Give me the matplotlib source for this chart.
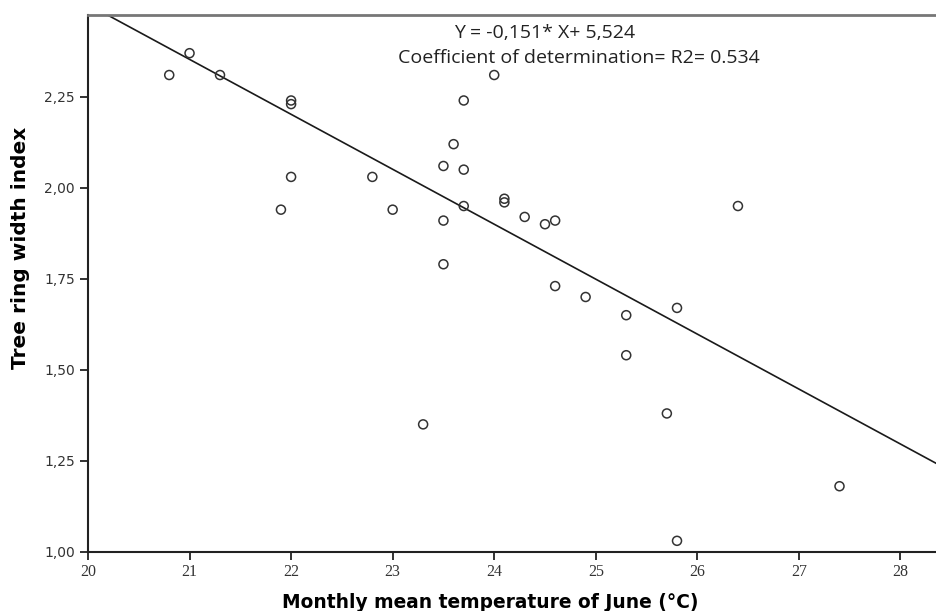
import matplotlib
matplotlib.use("Agg")
import matplotlib.pyplot as plt
import numpy as np

# June mean temperature (°C) vs tree ring width index
temp = [20.8, 21.0, 21.3, 22.0, 22.0, 22.0, 21.9, 22.8, 23.0, 23.3,
        23.7, 23.6, 23.5, 23.7, 23.7, 23.5, 23.5, 24.0, 24.1, 24.1,
        24.3, 24.5, 24.6, 24.6, 24.9, 25.3, 25.3, 25.8, 25.8, 25.7,
        26.4, 27.4]
ring_index = [2.31, 2.37, 2.31, 2.24, 2.23, 2.03, 1.94, 2.03, 1.94, 1.35,
              2.24, 2.12, 2.06, 2.05, 1.95, 1.91, 1.79, 2.31, 1.97, 1.96,
              1.92, 1.90, 1.91, 1.73, 1.70, 1.65, 1.54, 1.67, 1.03, 1.38,
              1.95, 1.18]

slope = -0.151
intercept = 5.524

x_ticks = [20, 21, 22, 23, 24, 25, 26, 27, 28]
y_ticks = [1.00, 1.25, 1.50, 1.75, 2.00, 2.25]

fig = plt.figure(figsize=(9.37, 6.11), dpi=100)
ax = fig.add_axes([0.0939, 0.097, 0.9061, 0.8785])

ax.scatter(temp, ring_index, s=42, facecolors="none", edgecolors="#333333",
           linewidths=1.1, zorder=3)

xs = np.array([20, 28.4])
ax.plot(xs, slope * xs + intercept, color="#1a1a1a", lw=1.2, zorder=2)

ax.set_xlim(20, 28.36)
ax.set_ylim(1.0, 2.475)
ax.set_xticks(x_ticks)
ax.set_yticks(y_ticks)
ax.set_yticklabels([f"{v:.2f}".replace(".", ",") for v in y_ticks])
for lab in ax.get_xticklabels():
    lab.set_family("Liberation Serif")
    lab.set_fontsize(11.5)

ax.tick_params(direction="out", length=6, width=1.3, color="#222222",
               labelcolor="#333333")
ax.tick_params(axis="y", labelsize=10)
ax.tick_params(axis="x", pad=3)

for side in ["left", "bottom"]:
    ax.spines[side].set_color("#222222")
    ax.spines[side].set_linewidth(1.5)
ax.spines["top"].set_color("#777777")
ax.spines["top"].set_linewidth(2)
ax.spines["right"].set_visible(False)

ax.set_xlabel("Monthly mean temperature of June (°C)", fontsize=13.4,
              fontweight="bold", va="center")
ax.set_ylabel("Tree ring width index", fontsize=14.5, fontweight="bold",
              va="center")
ax.xaxis.set_label_coords(0.474, -0.095)
ax.yaxis.set_label_coords(-0.08, 0.566)

fig.text(0.581, 0.946, "Y = -0,151* X+ 5,524", ha="center", va="center",
         fontsize=14, family="Open Sans", color="#222222")
fig.text(0.618, 0.905, "Coefficient of determination= R2= 0.534",
         ha="center", va="center", fontsize=14, family="Open Sans",
         color="#222222")

fig.savefig("out.png", dpi=100)
